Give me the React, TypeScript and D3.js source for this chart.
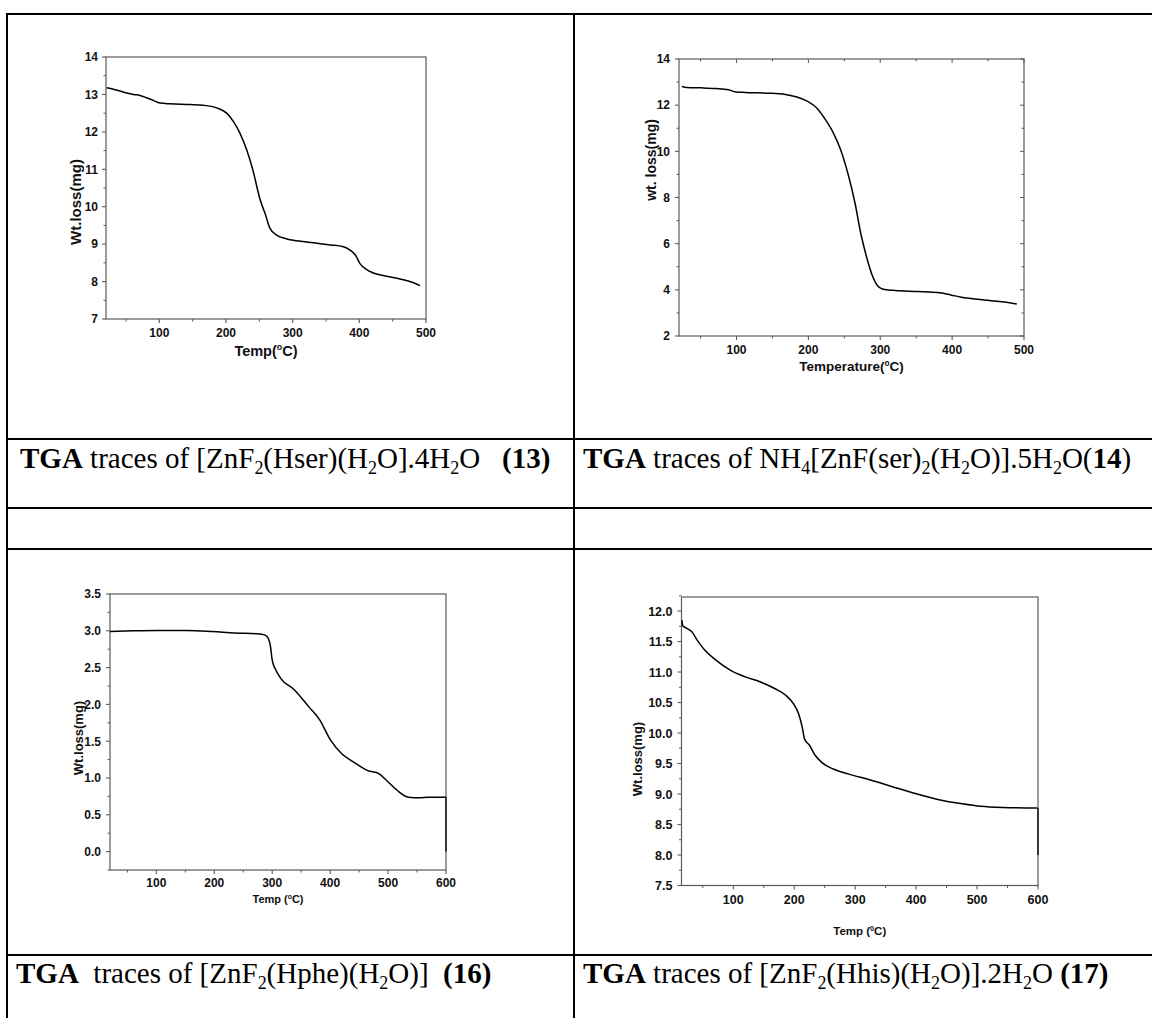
import React from 'react';
import * as d3 from 'd3';

// ---------- DATA ----------
// (13) [ZnF2(Hser)(H2O)].4H2O
const temp13 = [21, 31, 51, 61, 71, 81, 91, 101, 116, 146, 166, 186, 201, 211, 221, 231, 240, 251, 259, 266, 276, 291, 306, 331, 356, 376, 386, 394, 401, 411, 421, 441, 461, 476, 491];
const wt13 = [13.18, 13.14, 13.04, 13.0, 12.97, 12.91, 12.84, 12.77, 12.75, 12.73, 12.71, 12.64, 12.5, 12.28, 11.96, 11.52, 11.0, 10.2, 9.8, 9.42, 9.24, 9.14, 9.09, 9.04, 8.98, 8.93, 8.84, 8.71, 8.48, 8.32, 8.23, 8.14, 8.07, 8.0, 7.89];
// (14) NH4[ZnF(ser)2(H2O)].5H2O
const temp14 = [24, 31, 51, 71, 89, 99, 112, 143, 168, 184, 199, 212, 224, 235, 245, 255, 265, 273, 281, 288, 296, 303, 321, 352, 383, 398, 413, 439, 469, 490];
const wt14 = [12.81, 12.77, 12.75, 12.72, 12.67, 12.57, 12.55, 12.52, 12.46, 12.35, 12.16, 11.87, 11.36, 10.78, 10.06, 9.04, 7.74, 6.43, 5.42, 4.7, 4.19, 4.04, 3.97, 3.93, 3.87, 3.78, 3.68, 3.58, 3.48, 3.39];
// (16) [ZnF2(Hphe)(H2O)]
const temp16 = [20, 60, 102, 153, 197, 236, 274, 287, 293, 297, 300, 306, 315, 338, 363, 382, 401, 420, 440, 465, 484, 497, 516, 535, 554, 570, 600];
const wt16 = [2.99, 3.0, 3.005, 3.005, 2.99, 2.97, 2.96, 2.945, 2.9, 2.79, 2.6, 2.47, 2.35, 2.2, 1.97, 1.79, 1.51, 1.33, 1.22, 1.1, 1.06, 0.97, 0.83, 0.74, 0.73, 0.74, 0.74];
const dropTemp16 = [600, 600];
const dropWt16 = [0.74, 0.0];
// (17) [ZnF2(Hhis)(H2O)].2H2O
const temp17 = [15.6, 17, 23, 32, 41, 53, 71, 95, 119.5, 143.6, 167.8, 186, 198, 207, 213, 217, 225, 234, 246, 264, 288.5, 325, 361, 409, 445.5, 470, 506, 542, 599];
const wt17 = [11.85, 11.76, 11.72, 11.66, 11.52, 11.36, 11.2, 11.03, 10.92, 10.84, 10.73, 10.62, 10.49, 10.32, 10.1, 9.9, 9.8, 9.64, 9.51, 9.41, 9.33, 9.23, 9.12, 8.98, 8.89, 8.85, 8.8, 8.78, 8.77];
const dropTemp17 = [600, 600];
const dropWt17 = [8.77, 8.0];

// tick labels
const xTicks500 = [100, 200, 300, 400, 500];
const xTicks600 = [100, 200, 300, 400, 500, 600];
const yTicks13 = [7, 8, 9, 10, 11, 12, 13, 14];
const yTicks14 = [2, 4, 6, 8, 10, 12, 14];
const yTicks16 = [0.0, 0.5, 1.0, 1.5, 2.0, 2.5, 3.0, 3.5];
const yTicks17 = [7.5, 8.0, 8.5, 9.0, 9.5, 10.0, 10.5, 11.0, 11.5, 12.0];

const captions: { t: string; b?: boolean; sub?: boolean }[][] = [
  [{ t: 'TGA', b: true }, { t: ' traces of [ZnF' }, { t: '2', sub: true }, { t: '(Hser)(H' }, { t: '2', sub: true }, { t: 'O].4H' }, { t: '2', sub: true }, { t: 'O   ' }, { t: '(13)', b: true }],
  [{ t: 'TGA', b: true }, { t: ' traces of NH' }, { t: '4', sub: true }, { t: '[ZnF(ser)' }, { t: '2', sub: true }, { t: '(H' }, { t: '2', sub: true }, { t: 'O)].5H' }, { t: '2', sub: true }, { t: 'O(' }, { t: '14', b: true }, { t: ')' }],
  [{ t: 'TGA', b: true }, { t: '  traces of [ZnF' }, { t: '2', sub: true }, { t: '(Hphe)(H' }, { t: '2', sub: true }, { t: 'O)]  ' }, { t: '(16)', b: true }],
  [{ t: 'TGA', b: true }, { t: ' traces of [ZnF' }, { t: '2', sub: true }, { t: '(Hhis)(H' }, { t: '2', sub: true }, { t: 'O)].2H' }, { t: '2', sub: true }, { t: 'O ' }, { t: '(17)', b: true }],
];

const SANS = "'Liberation Sans', Arial, sans-serif";
const SERIF = "'Liberation Serif', 'Times New Roman', serif";
const AX = '#5a5a5a';

type Seg = { t: string; b?: boolean; sub?: boolean; sup?: boolean };

function rich(segs: Seg[], size: number) {
  const out: any[] = [];
  let shift = 0;
  segs.forEach((s, i) => {
    let target = 0;
    if (s.sub) target = size * 0.22;
    if (s.sup) target = -size * 0.38;
    const dy = target - shift;
    shift = target;
    out.push(
      <tspan key={i} dy={dy} fontSize={s.sub || s.sup ? size * 0.62 : size} fontWeight={s.b ? 'bold' : undefined}>
        {s.t}
      </tspan>
    );
  });
  return out;
}

type ChartCfg = {
  left: number; right: number; top: number; bottom: number;
  xDomain: [number, number]; yDomain: [number, number];
  xTicks: number[]; xMinor: number[]; yTicks: number[]; yMinor: number[];
  yFmt: (v: number) => string;
  tickSize: number; xLabelDy: number; yLabelGap: number;
  temps: number[]; wts: number[]; dropT?: number[]; dropW?: number[];
  xTitle: Seg[]; xTitleSize: number; xTitleY: number;
  yTitle: string; yTitleSize: number; yTitleX: number; yTitleY: number;
  mirror?: boolean;
};

function Chart({ c }: { c: ChartCfg }) {
  const x = d3.scaleLinear().domain(c.xDomain).range([c.left, c.right]);
  const y = d3.scaleLinear().domain(c.yDomain).range([c.bottom, c.top]);
  const idx = c.temps.map((_, i) => i);
  const line = d3.line<number>().x(i => x(c.temps[i])).y(i => y(c.wts[i])).curve(d3.curveMonotoneX);
  const drop = c.dropT ? d3.line<number>().x(i => x(c.dropT![i])).y(i => y(c.dropW![i]))([0, 1]) : null;
  const cx = (c.left + c.right) / 2;
  return (
    <g>
      <rect x={c.left} y={c.top} width={c.right - c.left} height={c.bottom - c.top} fill="none" stroke={AX} strokeWidth={1.2} />
      {c.xTicks.map(v => (
        <g key={'xt' + v}>
          <line x1={x(v)} x2={x(v)} y1={c.bottom} y2={c.bottom + 4} stroke={AX} strokeWidth={1.1} />
          {c.mirror && <line x1={x(v)} x2={x(v)} y1={c.top} y2={c.top + 4} stroke={AX} strokeWidth={1} />}
          <text x={x(v)} y={c.bottom + c.xLabelDy} textAnchor="middle" fontFamily={SANS} fontWeight="bold" fontSize={c.tickSize} fill="#111">{v}</text>
        </g>
      ))}
      {c.xMinor.map(v => (
        <g key={'xm' + v}>
          <line x1={x(v)} x2={x(v)} y1={c.bottom} y2={c.bottom + 2.5} stroke={AX} strokeWidth={1} />
          {c.mirror && <line x1={x(v)} x2={x(v)} y1={c.top} y2={c.top + 2.5} stroke={AX} strokeWidth={1} />}
        </g>
      ))}
      {c.yTicks.map(v => (
        <g key={'yt' + v}>
          <line x1={c.left - 4} x2={c.left} y1={y(v)} y2={y(v)} stroke={AX} strokeWidth={1.1} />
          {c.mirror && <line x1={c.right - 4} x2={c.right} y1={y(v)} y2={y(v)} stroke={AX} strokeWidth={1} />}
          <text x={c.left - c.yLabelGap} y={y(v)} dy="0.36em" textAnchor="end" fontFamily={SANS} fontWeight="bold" fontSize={c.tickSize} fill="#111">{c.yFmt(v)}</text>
        </g>
      ))}
      {c.yMinor.map(v => (
        <g key={'ym' + v}>
          <line x1={c.left - 2.5} x2={c.left} y1={y(v)} y2={y(v)} stroke={AX} strokeWidth={1} />
          {c.mirror && <line x1={c.right - 2.5} x2={c.right} y1={y(v)} y2={y(v)} stroke={AX} strokeWidth={1} />}
        </g>
      ))}
      <path d={line(idx) || ''} fill="none" stroke="#000" strokeWidth={1.5} />
      {drop && <path d={drop} fill="none" stroke="#000" strokeWidth={1.3} />}
      <text x={cx} y={c.xTitleY} textAnchor="middle" fontFamily={SANS} fontWeight="bold" fill="#111" fontSize={c.xTitleSize}>
        {rich(c.xTitle, c.xTitleSize)}
      </text>
      <text transform={`translate(${c.yTitleX},${c.yTitleY}) rotate(-90)`} textAnchor="middle" dy="0.36em" fontFamily={SANS} fontWeight="bold" fill="#111" fontSize={c.yTitleSize}>
        {c.yTitle}
      </text>
    </g>
  );
}

const minors = (a: number, b: number, step: number) => d3.range(a, b + 1e-9, step);

export default function App() {
  const f0 = (v: number) => String(v);
  const f1 = d3.format('.1f');
  const charts: ChartCfg[] = [
    {
      left: 106, right: 426, top: 57, bottom: 319,
      xDomain: [20, 500], yDomain: [7, 14],
      xTicks: xTicks500, xMinor: minors(50, 450, 100), yTicks: yTicks13, yMinor: minors(7.5, 13.5, 1),
      yFmt: f0, tickSize: 12, xLabelDy: 18, yLabelGap: 8,
      temps: temp13, wts: wt13,
      xTitle: [{ t: 'Temp(' }, { t: 'o', sup: true }, { t: 'C)' }], xTitleSize: 14.5, xTitleY: 356,
      yTitle: 'Wt.loss(mg)', yTitleSize: 15, yTitleX: 76, yTitleY: 202,
    },
    {
      left: 679, right: 1024, top: 59, bottom: 336,
      xDomain: [20, 500], yDomain: [2, 14],
      xTicks: xTicks500, xMinor: minors(50, 450, 100), yTicks: yTicks14, yMinor: minors(3, 13, 2),
      yFmt: f0, tickSize: 12, xLabelDy: 18, yLabelGap: 9,
      temps: temp14, wts: wt14,
      xTitle: [{ t: 'Temperature(' }, { t: 'o', sup: true }, { t: 'C)' }], xTitleSize: 13.5, xTitleY: 371,
      yTitle: 'wt. loss(mg)', yTitleSize: 14, yTitleX: 651, yTitleY: 160,
      mirror: true,
    },
    {
      left: 110, right: 446, top: 594, bottom: 870,
      xDomain: [20, 600], yDomain: [-0.25, 3.5],
      xTicks: xTicks600, xMinor: minors(50, 550, 100), yTicks: yTicks16, yMinor: minors(-0.25, 3.25, 0.5),
      yFmt: f1, tickSize: 12, xLabelDy: 17, yLabelGap: 9,
      temps: temp16, wts: wt16, dropT: dropTemp16, dropW: dropWt16,
      xTitle: [{ t: 'Temp (' }, { t: 'o', sup: true }, { t: 'C)' }], xTitleSize: 11, xTitleY: 903,
      yTitle: 'Wt.loss(mg)', yTitleSize: 13, yTitleX: 78, yTitleY: 738,
    },
    {
      left: 681.5, right: 1038, top: 597, bottom: 885.5,
      xDomain: [15, 600], yDomain: [7.5, 12.23],
      xTicks: xTicks600, xMinor: minors(50, 550, 100), yTicks: yTicks17, yMinor: minors(7.75, 12.25, 0.5),
      yFmt: f1, tickSize: 12.5, xLabelDy: 18, yLabelGap: 9,
      temps: temp17, wts: wt17, dropT: dropTemp17, dropW: dropWt17,
      xTitle: [{ t: 'Temp (' }, { t: '0', sup: true }, { t: 'C)' }], xTitleSize: 11.5, xTitleY: 935,
      yTitle: 'Wt.loss(mg)', yTitleSize: 13, yTitleX: 637, yTitleY: 759,
    },
  ];

  const hLines = [14, 439, 508, 549, 955];
  const capPos = [
    { x: 20, y: 468 },
    { x: 583, y: 468 },
    { x: 16, y: 983 },
    { x: 583, y: 983 },
  ];
  const capSize = 29;

  return (
    <div style={{ position: 'absolute', left: 0, top: 0 }}>
      <svg width={1152} height={1018} style={{ display: 'block', background: '#fff' }}>
        <rect x={0} y={0} width={1152} height={1018} fill="#fff" />
        {hLines.map(yy => (
          <line key={yy} x1={6} x2={1152} y1={yy} y2={yy} stroke="#000" strokeWidth={2} />
        ))}
        <line x1={7} x2={7} y1={13} y2={1018} stroke="#000" strokeWidth={2} />
        <line x1={574} x2={574} y1={13} y2={1018} stroke="#000" strokeWidth={2} />
        {charts.map((c, i) => <Chart key={i} c={c} />)}
        {captions.map((segs, i) => (
          <text key={i} x={capPos[i].x} y={capPos[i].y} fontFamily={SERIF} fontSize={capSize} fill="#000" style={{ whiteSpace: 'pre' }}>
            {rich(segs, capSize)}
          </text>
        ))}
      </svg>
    </div>
  );
}
